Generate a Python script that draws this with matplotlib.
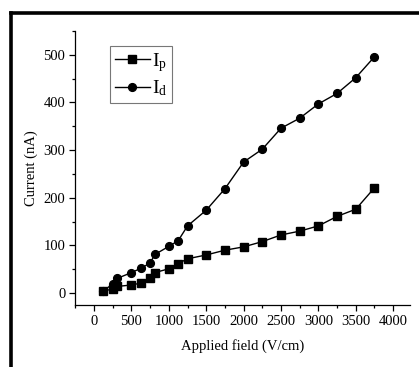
import matplotlib
matplotlib.use('Agg')
from matplotlib import pyplot as plt
from matplotlib.lines import Line2D
from matplotlib.ticker import MultipleLocator

plt.rcParams['font.family'] = ['Liberation Serif', 'DejaVu Serif']
plt.rcParams['mathtext.fontset'] = 'custom'
plt.rcParams['mathtext.rm'] = 'Liberation Serif'
plt.rcParams['mathtext.it'] = 'Liberation Serif'

# applied field (V/cm)
field_p = [125, 250, 312, 500, 625, 750, 812, 1000, 1125, 1250, 1500, 1750,
           2000, 2250, 2500, 2750, 3000, 3250, 3500, 3750]
current_p = [5, 8, 14, 17, 21, 32, 43, 51, 62, 72, 80, 90,
             97, 108, 122, 130, 141, 161, 176, 221]

field_d = [125, 250, 312, 500, 625, 750, 812, 1000, 1125, 1250, 1500, 1750,
           2000, 2250, 2500, 2750, 3000, 3250, 3500, 3750]
current_d = [5, 19, 31, 43, 52, 63, 81, 98, 110, 141, 174, 219,
             275, 302, 346, 367, 397, 419, 452, 496]

fig = plt.figure(figsize=(4.19, 3.67), dpi=100)
ax = fig.add_axes([75/419, 1-305/367, (410-75)/419, (305-31)/367])

ax.plot(field_p, current_p, '-', color='black', marker='s', markersize=5.2,
        linewidth=1.0, label=r'I$_{\mathrm{p}}$')
ax.plot(field_d, current_d, '-', color='black', marker='o', markersize=5.6,
        linewidth=1.0, label=r'I$_{\mathrm{d}}$')

ax.set_xlim(-255, 4225)
ax.set_ylim(-25, 550)
ax.xaxis.set_major_locator(MultipleLocator(500))
ax.xaxis.set_minor_locator(MultipleLocator(250))
ax.yaxis.set_major_locator(MultipleLocator(100))
ax.yaxis.set_minor_locator(MultipleLocator(50))
ax.spines['top'].set_visible(False)
ax.spines['right'].set_visible(False)
for s in ['left', 'bottom']:
    ax.spines[s].set_linewidth(0.9)
ax.tick_params(which='major', direction='out', length=4, width=0.9, labelsize=10.5, pad=3)
ax.tick_params(which='minor', direction='out', length=2.5, width=0.9)

ax.set_xlabel('Applied field (V/cm)', fontsize=10.5, labelpad=8)
ax.set_ylabel('Current (nA)', fontsize=10.5, labelpad=4)

leg = ax.legend(loc='upper left', bbox_to_anchor=((110-75)/335, 1-(46-31)/274),
                fontsize=14, frameon=True, fancybox=False, handlelength=1.8,
                handletextpad=0.1, borderpad=0.25, borderaxespad=0,
                labelspacing=0.25)
leg.get_frame().set_edgecolor('#555555')
leg.get_frame().set_linewidth(0.8)

# outer frame (left and top edges visible)
fig.add_artist(Line2D([10.5/419, 10.5/419], [0, 1-12.5/367], transform=fig.transFigure,
                      color='black', linewidth=2.6, solid_capstyle='projecting'))
fig.add_artist(Line2D([10.5/419, 1], [1-12.5/367, 1-12.5/367], transform=fig.transFigure,
                      color='black', linewidth=2.6, solid_capstyle='projecting'))

fig.savefig('out.png', dpi=100)
